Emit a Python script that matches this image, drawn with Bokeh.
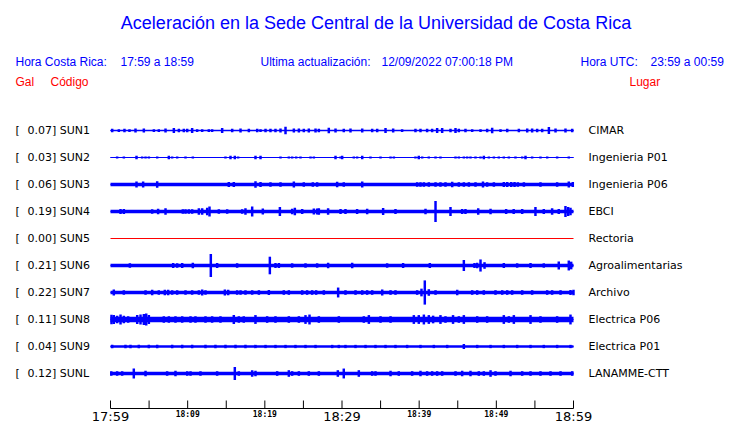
from bokeh.plotting import figure
from bokeh.models import Range1d, Label, ColumnDataSource
from bokeh.embed import file_html
from bokeh.resources import INLINE

# ---------------- data ----------------
STATIONS = ["SUN1", "SUN2", "SUN3", "SUN4", "SUN5", "SUN6", "SUN7", "SUN8", "SUN9", "SUNL"]
PEAK_GAL = [0.07, 0.03, 0.06, 0.19, 0.00, 0.21, 0.22, 0.11, 0.04, 0.12]
PLACES = ["CIMAR", "Ingenieria P01", "Ingenieria P06", "EBCI", "Rectoria",
          "Agroalimentarias", "Archivo", "Electrica P06", "Electrica P01", "LANAMME-CTT"]
NOISE_GAL = [0.012, 0.008, 0.032, 0.034, 0.0, 0.034, 0.031, 0.048, 0.021, 0.03]

TICK_MIN = [0, 5, 10, 15, 20, 25, 30, 35, 40, 45, 50, 55, 60]
TICK_LABELS = ["17:59", "", "18:09", "", "18:19", "", "18:29", "", "18:39", "", "18:49", "", "18:59"]
TICK_BIG = [True, False, False, False, False, False, True, False, False, False, False, False, True]

# minutes after 17:59 and amplitudes (Gal) of bursts
T_SUN1 = [0.22, 1.08, 1.81, 2.46, 3.24, 4.32, 5.62, 6.26, 7.13, 8.21,
          8.86, 9.5, 9.94, 10.58, 11.23, 11.88, 12.74, 13.17, 14.47, 15.77,
          16.85, 17.93, 19.01, 19.44, 20.09, 20.73, 21.38, 22.03, 22.68, 23.76,
          24.41, 25.05, 25.7, 26.57, 27.0, 28.29, 29.16, 30.23, 31.1, 32.62,
          33.91, 34.56, 35.64, 36.63, 37.79, 39.52, 40.17, 41.03, 41.68, 42.33,
          42.98, 44.06, 44.71, 45.14, 46.0, 46.87, 47.95, 48.81, 49.46, 50.54,
          51.41, 52.92, 54.0, 54.64, 55.29, 55.94, 56.81, 57.67, 58.96, 59.83]
A_SUN1 = [0.03, 0.025, 0.03, 0.025, 0.035, 0.035, 0.025, 0.025, 0.035, 0.045,
          0.03, 0.03, 0.03, 0.045, 0.025, 0.025, 0.025, 0.025, 0.045, 0.03,
          0.035, 0.03, 0.03, 0.025, 0.03, 0.03, 0.03, 0.035, 0.067, 0.035,
          0.035, 0.03, 0.035, 0.035, 0.03, 0.05, 0.035, 0.03, 0.035, 0.035,
          0.03, 0.03, 0.045, 0.035, 0.025, 0.03, 0.03, 0.03, 0.03, 0.045,
          0.045, 0.03, 0.045, 0.03, 0.03, 0.025, 0.025, 0.03, 0.05, 0.025,
          0.03, 0.03, 0.035, 0.035, 0.03, 0.03, 0.065, 0.035, 0.035, 0.03]

T_SUN2 = [0.86, 1.73, 3.37, 4.1, 4.54, 4.97, 6.05, 7.56, 7.99, 8.64,
          9.72, 10.67, 14.9, 15.55, 16.11, 16.54, 18.79, 19.44, 22.03, 23.11,
          23.54, 24.06, 24.62, 25.92, 26.35, 29.16, 29.81, 30.02, 31.53, 31.96,
          32.62, 33.69, 34.99, 36.29, 36.72, 39.52, 39.95, 40.39, 41.25, 42.12,
          42.76, 44.71, 45.14, 45.79, 46.22, 46.65, 47.3, 47.95, 48.38, 49.03,
          49.68, 50.32, 50.97, 51.62, 52.48, 53.35, 53.78, 54.64, 55.72, 56.59,
          57.88, 59.39]
A_SUN2 = [0.018, 0.018, 0.03, 0.02, 0.02, 0.02, 0.02, 0.03, 0.02, 0.02,
          0.02, 0.02, 0.02, 0.03, 0.03, 0.02, 0.03, 0.03, 0.02, 0.02,
          0.02, 0.02, 0.02, 0.02, 0.02, 0.03, 0.02, 0.03, 0.02, 0.02,
          0.03, 0.02, 0.02, 0.02, 0.02, 0.02, 0.03, 0.02, 0.02, 0.02,
          0.02, 0.02, 0.02, 0.02, 0.02, 0.02, 0.02, 0.02, 0.03, 0.02,
          0.02, 0.02, 0.02, 0.02, 0.02, 0.02, 0.03, 0.02, 0.02, 0.02,
          0.02, 0.02]

T_SUN3 = [3.37, 4.23, 6.05, 15.33, 15.98, 18.79, 19.44, 20.73, 22.03, 23.76,
          25.05, 26.22, 26.78, 29.37, 30.23, 32.62, 39.74, 40.17, 40.61, 41.25,
          42.12, 42.76, 43.41, 44.28, 45.14, 45.79, 46.44, 47.3, 48.27, 48.81,
          49.68, 50.97, 51.41, 51.93, 52.36, 52.79, 53.57, 55.72, 57.88, 59.39,
          59.91]
A_SUN3 = [0.055, 0.055, 0.06, 0.045, 0.045, 0.06, 0.045, 0.042, 0.042, 0.055,
          0.042, 0.042, 0.042, 0.05, 0.042, 0.055, 0.042, 0.042, 0.042, 0.042,
          0.042, 0.042, 0.042, 0.05, 0.042, 0.042, 0.042, 0.042, 0.055, 0.042,
          0.042, 0.045, 0.045, 0.045, 0.045, 0.042, 0.042, 0.042, 0.042, 0.055,
          0.045]

T_SUN4 = [1.3, 1.73, 5.4, 6.17, 7.13, 9.37, 9.72, 10.15, 10.58, 11.45,
          11.88, 12.53, 12.83, 14.04, 15.12, 17.06, 17.49, 18.36, 19.74, 21.95,
          23.54, 23.89, 24.84, 26.35, 26.78, 27.0, 28.2, 29.81, 30.45, 31.96,
          33.26, 35.33, 36.93, 40.82, 42.12, 44.06, 45.57, 46.0, 47.65, 49.25,
          51.27, 52.25, 53.35, 55.07, 56.15, 57.23, 58.09, 58.96, 59.31, 59.61]
A_SUN4 = [0.045, 0.045, 0.042, 0.05, 0.06, 0.042, 0.042, 0.042, 0.042, 0.06,
          0.06, 0.07, 0.09, 0.042, 0.042, 0.042, 0.06, 0.09, 0.055, 0.08,
          0.05, 0.07, 0.045, 0.055, 0.055, 0.06, 0.06, 0.045, 0.045, 0.045,
          0.05, 0.065, 0.045, 0.05, 0.19, 0.08, 0.045, 0.045, 0.06, 0.05,
          0.045, 0.045, 0.045, 0.08, 0.045, 0.06, 0.045, 0.1, 0.08, 0.07]

T_SUN5 = []
A_SUN5 = []

T_SUN6 = [2.51, 8.12, 8.64, 9.29, 10.67, 13.0, 13.82, 16.41, 20.65, 21.38,
          21.82, 23.54, 25.27, 26.78, 28.2, 31.32, 35.85, 37.92, 41.38, 45.79,
          47.17, 47.52, 47.95, 48.47, 50.97, 52.7, 54.43, 56.15, 58.09, 59.39,
          59.7]
A_SUN6 = [0.04, 0.045, 0.04, 0.045, 0.05, 0.21, 0.045, 0.04, 0.16, 0.045,
          0.045, 0.04, 0.04, 0.04, 0.05, 0.05, 0.04, 0.045, 0.045, 0.1,
          0.045, 0.05, 0.11, 0.06, 0.045, 0.04, 0.045, 0.04, 0.073, 0.09,
          0.07]

T_SUN7 = [0.43, 1.73, 4.54, 5.4, 6.26, 7.04, 7.47, 7.99, 8.64, 9.72,
          10.58, 11.45, 11.88, 12.31, 14.82, 15.25, 16.41, 16.85, 17.49, 18.36,
          19.23, 20.52, 22.46, 23.11, 24.84, 25.48, 26.13, 26.65, 27.65, 29.5,
          30.45, 31.75, 32.62, 33.26, 33.91, 35.21, 36.29, 36.93, 39.74, 40.3,
          40.73, 41.25, 42.12, 44.93, 46.87, 47.52, 48.38, 49.89, 50.76, 51.41,
          52.05, 53.35, 54.64, 56.59, 57.23, 58.32, 59.61, 60.0]
A_SUN7 = [0.055, 0.042, 0.042, 0.05, 0.042, 0.05, 0.05, 0.042, 0.042, 0.042,
          0.042, 0.042, 0.055, 0.042, 0.055, 0.05, 0.042, 0.042, 0.042, 0.042,
          0.042, 0.045, 0.042, 0.042, 0.042, 0.042, 0.042, 0.042, 0.042, 0.09,
          0.042, 0.042, 0.042, 0.042, 0.042, 0.055, 0.042, 0.042, 0.042, 0.07,
          0.22, 0.06, 0.042, 0.05, 0.042, 0.042, 0.042, 0.042, 0.042, 0.042,
          0.042, 0.042, 0.042, 0.042, 0.042, 0.042, 0.045, 0.05]

T_SUN8 = [0.13, 0.43, 0.86, 1.3, 1.73, 2.29, 3.46, 3.89, 4.32, 4.63,
          4.97, 6.91, 7.56, 8.42, 9.29, 10.37, 11.01, 12.31, 13.17, 14.25,
          15.98, 16.63, 17.27, 18.79, 20.3, 21.38, 23.11, 24.41, 25.27, 25.79,
          27.0, 29.59, 32.83, 33.48, 34.99, 36.29, 39.31, 39.95, 40.61, 41.25,
          41.81, 42.76, 43.41, 44.39, 45.14, 45.79, 47.52, 48.81, 50.97, 51.62,
          52.27, 54.43, 55.72, 57.88, 59.61]
A_SUN8 = [0.085, 0.08, 0.07, 0.09, 0.07, 0.06, 0.08, 0.09, 0.1, 0.11,
          0.08, 0.06, 0.06, 0.06, 0.06, 0.06, 0.06, 0.06, 0.06, 0.06,
          0.08, 0.06, 0.06, 0.08, 0.06, 0.06, 0.06, 0.06, 0.08, 0.09,
          0.06, 0.06, 0.06, 0.08, 0.06, 0.06, 0.08, 0.08, 0.09, 0.08,
          0.07, 0.08, 0.06, 0.08, 0.06, 0.08, 0.06, 0.06, 0.08, 0.06,
          0.08, 0.08, 0.06, 0.06, 0.09]

T_SUN9 = [0.22, 1.94, 2.59, 3.67, 4.97, 6.05, 7.99, 9.29, 10.58, 12.31,
          13.6, 14.9, 16.2, 17.49, 18.79, 20.09, 21.38, 22.68, 23.97, 25.27,
          26.57, 28.73, 29.59, 30.45, 31.75, 33.05, 34.34, 35.64, 36.93, 38.44,
          40.17, 41.9, 43.63, 45.79, 47.52, 49.25, 50.97, 52.7, 54.43, 56.15,
          57.88, 59.61]
A_SUN9 = [0.03, 0.03, 0.03, 0.03, 0.03, 0.03, 0.03, 0.03, 0.03, 0.03,
          0.03, 0.03, 0.03, 0.03, 0.03, 0.03, 0.03, 0.03, 0.03, 0.03,
          0.03, 0.03, 0.03, 0.03, 0.03, 0.03, 0.03, 0.03, 0.03, 0.03,
          0.03, 0.03, 0.03, 0.045, 0.03, 0.03, 0.03, 0.03, 0.03, 0.03,
          0.03, 0.03]

T_SUNL = [0.1, 0.86, 1.51, 3.02, 4.54, 7.34, 8.42, 9.94, 10.37, 11.66,
          13.82, 16.11, 16.63, 18.36, 18.79, 21.6, 23.11, 23.54, 24.41, 25.7,
          27.0, 29.46, 30.23, 32.18, 33.91, 34.34, 36.29, 37.36, 39.09, 40.17,
          41.03, 41.68, 42.33, 42.98, 44.71, 45.57, 46.65, 47.73, 48.38, 49.25,
          49.89, 51.84, 53.35, 54.43, 55.72, 57.02, 58.32, 59.83]
A_SUNL = [0.042, 0.042, 0.042, 0.09, 0.05, 0.042, 0.05, 0.042, 0.042, 0.042,
          0.042, 0.12, 0.042, 0.06, 0.05, 0.042, 0.06, 0.042, 0.042, 0.042,
          0.042, 0.06, 0.09, 0.06, 0.042, 0.042, 0.05, 0.042, 0.042, 0.05,
          0.042, 0.042, 0.042, 0.042, 0.042, 0.05, 0.05, 0.042, 0.042, 0.06,
          0.042, 0.05, 0.042, 0.042, 0.042, 0.042, 0.042, 0.042]

EVENT_T = [T_SUN1, T_SUN2, T_SUN3, T_SUN4, T_SUN5, T_SUN6, T_SUN7, T_SUN8, T_SUN9, T_SUNL]
EVENT_A = [A_SUN1, A_SUN2, A_SUN3, A_SUN4, A_SUN5, A_SUN6, A_SUN7, A_SUN8, A_SUN9, A_SUNL]

# ---------------- layout ----------------
W, H = 740, 423
MARGIN = 0
PX_PER_GAL = 55.0
X0_PX, X1_PX = 110.0, 573.0          # page px of 17:59 and 18:59
ROW0_PX, ROW_STEP_PX = 130.0, 27.0   # page px of first trace and spacing
SPAN_MIN = 60.0

px_per_min = (X1_PX - X0_PX) / SPAN_MIN
x_start = -(X0_PX - MARGIN) / px_per_min
x_end = x_start + W / px_per_min
y_end = (ROW0_PX - MARGIN) / PX_PER_GAL
y_start = y_end - H / PX_PER_GAL
ROW_GAP = ROW_STEP_PX / PX_PER_GAL


def dx(px):
    return x_start + (px - MARGIN) / px_per_min


def dy(py):
    return y_end - (py - MARGIN) / PX_PER_GAL


BLUE = "#0000FF"
RED = "#FF0000"
HEAD_FONT = "Liberation Sans"
ROW_FONT = "DejaVu Sans"

p = figure(width=W, height=H, x_range=Range1d(x_start, x_end), y_range=Range1d(y_start, y_end),
           output_backend="svg", toolbar_location=None, min_border=0,
           x_axis_type=None, y_axis_type=None)
p.outline_line_color = None
p.background_fill_color = "white"
p.border_fill_color = "white"

# ---------------- traces ----------------
centers = [-i * ROW_GAP for i in range(len(STATIONS))]
band_src = dict(left=[], right=[], bottom=[], top=[])
line_src = dict(x0=[], x1=[], y0=[], y1=[])
ev_src = dict(x=[], y=[], h=[])
for i, st in enumerate(STATIONS):
    c = centers[i]
    if PEAK_GAL[i] <= 0:
        p.segment(x0=[0], x1=[SPAN_MIN], y0=[c], y1=[c], line_color=RED, line_width=1.2)
        continue
    band_src["left"].append(0)
    band_src["right"].append(SPAN_MIN)
    band_src["bottom"].append(c - NOISE_GAL[i])
    band_src["top"].append(c + NOISE_GAL[i])
    line_src["x0"].append(0)
    line_src["x1"].append(SPAN_MIN)
    line_src["y0"].append(c)
    line_src["y1"].append(c)
    for t, a in zip(EVENT_T[i], EVENT_A[i]):
        ev_src["x"].append(t)
        ev_src["y"].append(c)
        ev_src["h"].append(2 * a)

p.quad(source=ColumnDataSource(band_src), left="left", right="right", bottom="bottom", top="top",
       fill_color=BLUE, line_color=None)
p.segment(source=ColumnDataSource(line_src), x0="x0", x1="x1", y0="y0", y1="y1",
          line_color=BLUE, line_width=1.2)
p.rect(source=ColumnDataSource(ev_src), x="x", y="y", width=0.32, height="h",
       fill_color=BLUE, line_color=None)

# ---------------- row labels ----------------
for i, st in enumerate(STATIONS):
    c = centers[i]
    p.add_layout(Label(x=dx(15), y=c, text="[",
                       text_font=ROW_FONT, text_font_size="11px", text_color="black",
                       text_baseline="middle", text_align="left"))
    p.add_layout(Label(x=dx(27), y=c, text="%.2f] %s" % (PEAK_GAL[i], st),
                       text_font=ROW_FONT, text_font_size="11px", text_color="black",
                       text_baseline="middle", text_align="left"))
    p.add_layout(Label(x=dx(588), y=c, text=PLACES[i],
                       text_font=ROW_FONT, text_font_size="11px", text_color="black",
                       text_baseline="middle", text_align="left"))

# ---------------- header ----------------
def head(px, py, text, size="12px", color=BLUE, align="left"):
    p.add_layout(Label(x=dx(px), y=dy(py), text=text, text_font=HEAD_FONT, text_font_size=size,
                       text_color=color, text_baseline="middle", text_align=align))


head(375.5, 22, "Aceleración en la Sede Central de la Universidad de Costa Rica", size="18px", align="center")
head(15, 61, "Hora Costa Rica:")
head(120, 61, "17:59 a 18:59")
head(260, 61, "Ultima actualización:")
head(381, 61, "12/09/2022 07:00:18 PM")
head(580, 61, "Hora UTC:")
head(650, 61, "23:59 a 00:59")
head(15, 81, "Gal", color=RED)
head(50, 81, "Código", color=RED)
head(629, 81, "Lugar", color=RED)

# ---------------- time axis ----------------
axis_y = dy(408)
tick_top = dy(400)
p.segment(x0=[0], x1=[SPAN_MIN], y0=[axis_y], y1=[axis_y], line_color="black", line_width=1)
p.segment(x0=TICK_MIN, x1=TICK_MIN, y0=[axis_y] * len(TICK_MIN), y1=[tick_top] * len(TICK_MIN),
          line_color="black", line_width=1)
for tm, lab, big in zip(TICK_MIN, TICK_LABELS, TICK_BIG):
    if not lab:
        continue
    if big:
        p.add_layout(Label(x=tm, y=dy(416), text=lab, text_font="DejaVu Sans", text_font_size="13px",
                           text_color="black", text_baseline="middle", text_align="center"))
    else:
        p.add_layout(Label(x=tm, y=dy(414), text=lab, text_font="DejaVu Sans Mono", text_font_size="8px",
                           text_font_style="bold", text_color="black", text_baseline="middle",
                           text_align="center"))

open("out.html", "w").write(file_html(p, INLINE))
